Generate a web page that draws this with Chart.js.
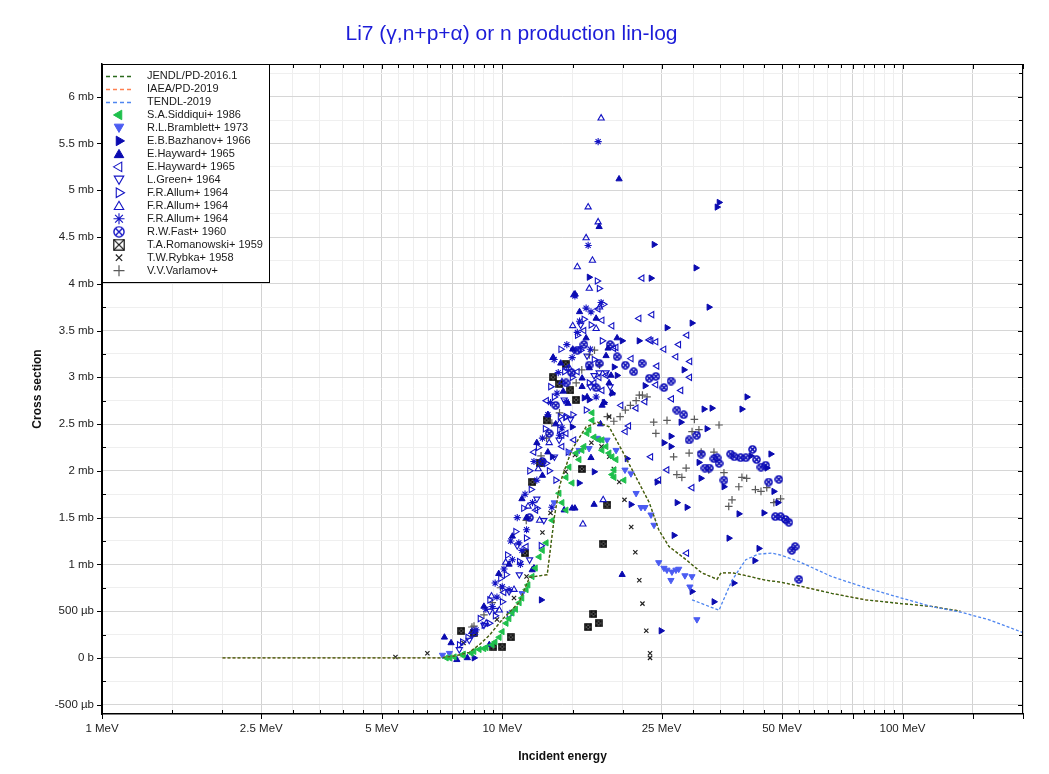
<!DOCTYPE html>
<html>
<head>
<meta charset="utf-8">
<title>Li7 photonuclear</title>
<script src="https://cdn.jsdelivr.net/npm/chart.js@4.4.1/dist/chart.umd.min.js"></script>
<style>
  html, body { margin: 0; padding: 0; background: #fff; }
  #wrap { width: 1049px; height: 774px; }
</style>
</head>
<body>
<div id="wrap"><canvas id="chart" width="1049" height="774"></canvas></div>
<script>
// ---- axis tick values ----
const xLabelValues = [1, 2.5, 5, 10, 25, 50, 100];
const xStrongValues = [1, 2.5, 5, 7.5, 10, 25, 50, 75, 100, 150, 200];
const yLabelValues = [-0.5, 0, 0.5, 1, 1.5, 2, 2.5, 3, 3.5, 4, 4.5, 5, 5.5, 6];

// ---- evaluations (MeV, mb) ----
const jendlE = [2.0, 7.0, 7.59, 8.27, 8.76, 9.28, 10.0, 11.0, 11.7, 12.95, 13.5, 13.9, 14.1, 14.9, 16.2, 17.3, 18.5, 19.9, 21.6, 23.3, 24.6, 26.1, 28.8, 31.5, 34.4, 35.2, 37.5, 40.6, 45.5, 49.6, 55.1, 66.5, 80.9, 99.4, 118, 139.5];
const jendlXs = [0, 0, 0.02, 0.06, 0.14, 0.24, 0.41, 0.59, 0.86, 0.89, 1.51, 1.83, 1.93, 2.22, 2.47, 2.52, 2.47, 2.22, 1.93, 1.66, 1.37, 1.19, 1.05, 0.91, 0.84, 0.91, 0.91, 0.88, 0.83, 0.81, 0.77, 0.69, 0.62, 0.58, 0.55, 0.50];
// IAEA/PD-2019 sits under the JENDL curve
const iaeaE = jendlE;
const iaeaXs = jendlXs;
const tendlE = [29.8, 34.8, 37.5, 40.6, 43.7, 47.1, 49.6, 55.1, 66.5, 80.9, 99.4, 118, 139.5, 163.9, 200];
const tendlXs = [0.62, 0.51, 0.83, 1.05, 1.11, 1.12, 1.10, 1.03, 0.87, 0.75, 0.64, 0.55, 0.49, 0.41, 0.27];

// ---- experiments (MeV, mb) ----
const siddiquiE = [7.25, 7.4, 7.59, 7.95, 8.0, 8.37, 8.5, 8.76, 9.0, 9.12, 9.44, 9.6, 9.83, 10.0, 10.23, 10.4, 10.59, 10.8, 11.03, 11.2, 11.48, 11.6, 11.88, 12.1, 12.37, 12.6, 12.88, 13.33, 13.87, 14.11, 14.44, 14.44, 14.69, 14.95, 15.3, 15.56, 15.83, 16.01, 16.29, 16.48, 16.77, 16.77, 16.96, 17.46, 17.76, 18.17, 18.49, 18.81, 19.03, 19.25, 19.03, 20.15, 18.81, 17.76];
const siddiquiXs = [0.0, 0.0, 0.01, 0.03, 0.04, 0.05, 0.07, 0.09, 0.10, 0.11, 0.14, 0.17, 0.22, 0.28, 0.37, 0.42, 0.48, 0.52, 0.59, 0.64, 0.73, 0.78, 0.87, 0.96, 1.08, 1.15, 1.23, 1.47, 1.76, 1.66, 1.58, 1.93, 2.04, 1.87, 2.19, 2.12, 2.22, 2.26, 2.40, 2.44, 2.62, 2.54, 2.36, 2.33, 2.22, 2.26, 2.19, 2.15, 2.01, 2.12, 1.93, 1.90, 1.96, 2.33];

const bramblettE = [7.09, 7.38, 10.59, 11.21, 13.48, 14.69, 15.56, 16.48, 17.26, 18.27, 19.25, 20.26, 20.97, 21.6, 22.22, 22.73, 23.53, 23.94, 24.6, 25.35, 25.79, 26.54, 27.16, 27.6, 28.6, 29.78, 26.39, 29.43, 30.64];
const bramblettXs = [0.03, 0.05, 0.49, 0.69, 1.66, 2.20, 2.22, 2.24, 2.35, 2.33, 2.22, 2.01, 1.97, 1.76, 1.61, 1.61, 1.53, 1.42, 1.02, 0.96, 0.94, 0.92, 0.94, 0.95, 0.88, 0.87, 0.83, 0.76, 0.41];

const bazhanovE = [34.8, 34.4, 23.94, 30.46, 23.53, 16.48, 32.83, 29.78, 19.93, 21.96, 25.79, 19.03, 40.83, 31.9, 33.4, 39.67, 32.45, 41.79, 46.86, 31.35, 35.78, 45.8, 47.68, 48.79, 39.0, 45.02, 36.82, 43.75, 42.73, 28.44, 22.73, 27.95, 26.39, 25.35, 26.39, 18.81, 17.96, 14.95, 20.5, 16.96, 15.56, 24.35, 30.99, 27.32, 28.93, 20.97, 26.85, 37.9, 33.79, 29.78, 24.92, 13.33, 12.51, 16.01, 19.36, 16.48, 8.5];
const bazhanovXs = [4.87, 4.82, 4.42, 4.17, 4.06, 4.07, 3.75, 3.58, 3.39, 3.39, 3.53, 3.11, 2.79, 2.66, 2.67, 2.66, 2.45, 2.16, 2.18, 1.92, 1.83, 2.03, 1.78, 1.66, 1.54, 1.55, 1.28, 1.17, 1.04, 3.08, 2.91, 2.52, 2.37, 2.30, 2.26, 2.83, 2.73, 2.47, 2.13, 1.99, 1.87, 1.88, 2.09, 1.66, 1.61, 1.64, 1.31, 0.80, 0.60, 0.71, 0.29, 2.15, 0.62, 2.78, 3.02, 2.76, 0.0];

const haywardAE = [19.58, 17.46, 17.16, 19.36, 16.2, 18.38, 18.17, 18.49, 18.81, 17.96, 17.76, 15.83, 16.29, 15.83, 16.66, 15.19, 16.96, 14.28, 19.93, 7.17, 7.7, 8.18, 7.45, 9.28, 11.88, 14.95, 12.0, 18.7, 15.2, 13.4, 14.2, 14.6, 13.6, 13.0, 12.6, 11.5, 10.4, 9.0, 9.8, 10.6, 11.2, 12.2, 13.0, 14.0, 15.0, 15.6, 16.5, 17.6];
const haywardAXs = [5.12, 4.61, 3.63, 3.42, 3.42, 3.31, 3.23, 2.94, 2.83, 2.73, 2.70, 2.99, 2.79, 2.90, 2.14, 1.60, 1.64, 1.58, 0.89, 0.22, -0.02, 0.0, 0.16, 0.14, 0.94, 1.60, 0.96, 3.02, 3.89, 3.21, 2.85, 2.72, 2.50, 2.20, 1.95, 1.50, 1.00, 0.55, 0.90, 1.30, 1.70, 2.30, 2.60, 3.15, 3.30, 3.70, 3.10, 2.50];

const haywardBE = [22.35, 23.66, 21.97, 17.76, 17.36, 28.93, 23.53, 24.21, 27.6, 25.35, 27.16, 29.43, 19.25, 24.35, 29.4, 24.2, 27.95, 26.5, 22.73, 21.6, 20.7, 20.3, 23.5, 25.8, 24.6, 29.8, 28.9, 15.1, 14.1, 19.0, 23.3, 18.17, 17.46, 16.96, 15.4, 15.56, 14.1, 17.76, 12.13, 11.48, 14.44, 10.1, 12.0, 12.9, 14.5, 16.0, 19.8, 21.0, 18.8];
const haywardBXs = [4.06, 3.67, 3.63, 3.61, 3.73, 3.45, 3.39, 3.38, 3.35, 3.30, 3.22, 3.17, 3.32, 3.12, 3.00, 2.92, 2.86, 2.77, 2.74, 2.67, 2.48, 2.42, 2.15, 2.01, 1.90, 1.82, 1.12, 2.33, 2.26, 3.31, 3.40, 3.02, 3.00, 2.94, 3.06, 3.30, 2.38, 2.86, 1.58, 1.19, 2.40, 0.70, 2.20, 2.75, 3.10, 3.50, 2.70, 3.20, 3.55];

const greenE = [16.96, 17.46, 18.17, 16.29, 11.7, 12.7, 11.03, 10.4, 9.6, 9.0, 8.27, 7.81, 13.87, 14.28, 15.1, 15.7, 9.3, 10.9, 12.2, 13.5, 14.8, 16.6, 18.6];
const greenXs = [3.02, 3.05, 3.05, 3.23, 1.05, 1.47, 0.89, 0.71, 0.51, 0.35, 0.19, 0.09, 2.33, 2.76, 3.29, 3.56, 0.50, 1.20, 1.70, 2.15, 2.55, 2.90, 2.90];

const allumRE = [10.23, 12.88, 11.8, 7.81, 7.95, 9.0, 9.28, 10.4, 11.03, 11.48, 13.95, 14.4, 13.48, 14.3, 17.26, 17.46, 16.66, 17.76, 15.7, 16.96, 14.95, 16.48, 14.44, 13.9, 17.9, 8.5, 9.6, 10.0, 12.2, 13.1, 8.2, 8.8, 9.3, 9.9, 10.3, 10.8, 11.3, 11.7, 12.3, 12.8, 13.2, 14.0, 15.4, 16.0, 14.6, 13.6, 12.5, 16.2, 15.0];
const allumRXs = [0.89, 2.08, 1.80, 0.14, 0.17, 0.35, 0.37, 0.46, 1.03, 1.28, 2.58, 2.57, 2.79, 3.06, 4.03, 3.95, 3.56, 3.39, 3.29, 3.19, 3.00, 2.94, 2.58, 2.44, 3.78, 0.25, 0.45, 0.60, 1.60, 2.00, 0.22, 0.42, 0.62, 0.85, 1.10, 1.35, 1.60, 2.00, 2.25, 2.45, 2.90, 3.30, 3.45, 3.62, 2.20, 1.90, 1.20, 2.65, 2.60];

const allumUE = [17.66, 16.39, 17.36, 16.2, 15.4, 17.16, 15.1, 13.9, 15.9, 17.87, 9.12, 14.7, 9.83, 10.7, 12.4, 13.4, 8.4, 9.4, 10.2, 11.6, 12.3, 13.1, 14.1, 15.0, 16.5, 16.8, 17.5];
const allumUXs = [5.77, 4.82, 4.66, 4.49, 4.18, 3.52, 3.88, 2.51, 1.43, 1.69, 0.37, 3.10, 0.51, 0.73, 1.47, 3.21, 0.28, 0.66, 1.02, 1.62, 2.02, 2.30, 2.95, 3.55, 3.95, 4.25, 3.75];

const allumSE = [17.36, 16.39, 15.19, 17.66, 16.2, 16.66, 15.4, 13.48, 14.95, 13.7, 13.2, 14.44, 17.16, 13.9, 14.1, 13.3, 11.9, 11.5, 11.0, 11.2, 10.4, 9.7, 10.0, 9.44, 10.6, 8.6, 9.1, 9.6, 10.1, 10.5, 10.9, 11.4, 12.0, 12.6, 13.0, 13.8, 14.5, 15.6, 16.6, 12.2, 11.1];
const allumSXs = [5.52, 4.41, 3.87, 3.80, 3.74, 3.70, 3.48, 3.19, 3.21, 2.83, 2.73, 2.74, 2.79, 2.38, 2.46, 1.61, 1.66, 1.37, 1.23, 1.15, 0.73, 0.65, 0.76, 0.55, 1.05, 0.30, 0.52, 0.80, 0.95, 1.25, 1.50, 1.75, 2.10, 2.35, 2.60, 3.05, 3.35, 3.60, 3.30, 1.90, 1.00];

const fastE = [19.36, 16.48, 20.3, 22.35, 15.4, 17.46, 21.3, 23.3, 24.2, 14.44, 17.16, 25.35, 26.4, 27.3, 28.4, 29.3, 30.6, 31.4, 32.1, 32.9, 33.8, 34.8, 35.8, 37.2, 38.0, 39.4, 40.6, 42.2, 43.2, 44.3, 45.5, 46.3, 49.1, 48.1, 49.6, 51.0, 52.0, 52.9, 53.9, 55.1, 34.4, 13.6, 14.9, 16.0, 18.6, 13.1, 12.6, 11.7];
const fastXs = [3.22, 3.13, 3.13, 3.15, 3.29, 3.15, 3.06, 2.99, 3.01, 2.94, 2.89, 2.89, 2.96, 2.65, 2.60, 2.33, 2.38, 2.18, 2.03, 2.03, 2.13, 2.08, 1.90, 2.18, 2.15, 2.14, 2.14, 2.23, 2.12, 2.04, 2.06, 1.88, 1.91, 1.51, 1.51, 1.48, 1.45, 1.15, 1.19, 0.84, 2.14, 2.70, 3.05, 3.35, 3.35, 2.40, 2.10, 1.50];

const romanowskiE = [14.4, 13.4, 13.9, 14.8, 15.3, 12.9, 12.4, 11.9, 11.4, 10.5, 10.0, 9.5, 8.48, 7.9, 15.8, 18.3, 17.9, 16.9, 16.4, 17.4];
const romanowskiXs = [3.14, 3.00, 2.93, 2.86, 2.76, 2.54, 2.08, 1.88, 1.12, 0.22, 0.12, 0.12, 0.27, 0.29, 2.02, 1.64, 1.22, 0.47, 0.33, 0.37];

const rybkaE = [5.41, 6.5, 8.0, 9.7, 10.7, 11.5, 12.6, 13.2, 14.4, 15.2, 16.7, 18.5, 17.7, 18.5, 19.0, 19.6, 20.2, 21.0, 21.5, 22.0, 22.4, 22.9, 23.4, 23.4];
const rybkaXs = [0.01, 0.05, 0.16, 0.41, 0.64, 0.87, 1.34, 1.55, 1.99, 2.17, 2.30, 2.58, 2.26, 2.15, 2.02, 1.88, 1.69, 1.40, 1.13, 0.83, 0.58, 0.29, 0.05, 0.0];

const varlamovE = [9.0, 8.5, 9.44, 9.9, 11.48, 12.5, 12.9, 13.3, 13.9, 15.3, 17.0, 16.5, 17.5, 15.8, 18.3, 19.0, 19.7, 20.3, 20.9, 21.6, 22.4, 23.0, 23.9, 24.2, 22.0, 25.8, 26.8, 27.3, 28.1, 28.8, 29.3, 30.2, 29.8, 31.0, 34.8, 31.4, 33.8, 32.8, 35.8, 39.7, 39.0, 40.8, 42.9, 44.3, 45.8, 47.7, 48.5, 49.6, 37.5, 36.8, 8.4];
const varlamovXs = [0.46, 0.34, 0.59, 0.75, 1.47, 2.16, 2.35, 2.51, 2.62, 2.94, 3.29, 3.24, 3.13, 3.08, 2.58, 2.53, 2.58, 2.65, 2.70, 2.75, 2.81, 2.79, 2.52, 2.40, 2.81, 2.54, 2.15, 1.96, 1.93, 2.03, 2.19, 2.55, 2.42, 2.44, 2.49, 2.20, 2.20, 2.01, 1.98, 1.93, 1.83, 1.92, 1.80, 1.78, 1.82, 1.66, 1.67, 1.70, 1.69, 1.62, 0.33];

// ---- helpers ----
const FONT = '"Liberation Sans", Arial, Helvetica, sans-serif';

function pts(xs, ys) {
    return xs.map((x, i) => ({ x: x, y: ys[i] }));
}

function isOn(list, v) {
    return list.some(t => Math.abs(t - v) < 1e-9);
}

// circle with a cross inside, as a point image
function makeCircleX(size, color, lw) {
    const c = document.createElement('canvas');
    c.width = size; c.height = size;
    const g = c.getContext('2d');
    const m = size / 2, r = size / 2 - lw / 2 - 0.2;
    g.strokeStyle = color; g.lineWidth = lw;
    g.beginPath(); g.arc(m, m, r, 0, Math.PI * 2); g.stroke();
    const d = r * 0.68;
    g.beginPath();
    g.moveTo(m - d, m - d); g.lineTo(m + d, m + d);
    g.moveTo(m + d, m - d); g.lineTo(m - d, m + d);
    g.stroke();
    return c;
}

// square with a cross inside
function makeBoxX(size, color, fill, lw) {
    const c = document.createElement('canvas');
    c.width = size; c.height = size;
    const g = c.getContext('2d');
    const o = lw / 2 + 0.2, s = size - 2 * o;
    if (fill) { g.fillStyle = fill; g.fillRect(o, o, s, s); }
    g.strokeStyle = color; g.lineWidth = lw;
    g.strokeRect(o, o, s, s);
    g.beginPath();
    g.moveTo(o, o); g.lineTo(o + s, o + s);
    g.moveTo(o + s, o); g.lineTo(o, o + s);
    g.stroke();
    return c;
}

const BLUE = '#1414c4';
const DARKBLUE = '#0a0ab0';

const circPlot = makeCircleX(9, '#1010b8', 1.6);
const circLegend = makeCircleX(12, BLUE, 1.4);
const boxPlot = makeBoxX(8, '#111', '#fff', 1.7);
const boxLegend = makeBoxX(12, '#111', null, 1.2);

function scatterSet(label, xs, ys, style, order) {
    return Object.assign({
        type: 'scatter',
        label: label,
        data: pts(xs, ys),
        showLine: false,
        order: order,
        pointHoverRadius: 0
    }, style);
}

function lineSet(label, xs, ys, color, order) {
    return {
        type: 'line',
        label: label,
        data: pts(xs, ys),
        borderColor: color,
        backgroundColor: color,
        borderWidth: 1.3,
        borderDash: [3, 2],
        pointRadius: 0,
        fill: false,
        tension: 0,
        order: order
    };
}

const datasets = [
    lineSet('JENDL/PD-2016.1', jendlE, jendlXs, '#2b6a1c', 1),
    lineSet('IAEA/PD-2019', iaeaE, iaeaXs, '#ff8050', 2),
    lineSet('TENDL-2019', tendlE, tendlXs, '#4f86f0', 0),
    scatterSet('S.A.Siddiqui+ 1986', siddiquiE, siddiquiXs,
        { pointStyle: 'triangle', rotation: 270, pointRadius: 3.6, backgroundColor: '#1fc04c', borderColor: '#1fc04c', borderWidth: 1 }, 3),
    scatterSet('R.L.Bramblett+ 1973', bramblettE, bramblettXs,
        { pointStyle: 'triangle', rotation: 180, pointRadius: 3.6, backgroundColor: '#4b5cf2', borderColor: '#4b5cf2', borderWidth: 1 }, 4),
    scatterSet('E.B.Bazhanov+ 1966', bazhanovE, bazhanovXs,
        { pointStyle: 'triangle', rotation: 90, pointRadius: 3.6, backgroundColor: DARKBLUE, borderColor: DARKBLUE, borderWidth: 1 }, 5),
    scatterSet('E.Hayward+ 1965', haywardAE, haywardAXs,
        { pointStyle: 'triangle', rotation: 0, pointRadius: 3.6, backgroundColor: DARKBLUE, borderColor: DARKBLUE, borderWidth: 1 }, 6),
    scatterSet('E.Hayward+ 1965', haywardBE, haywardBXs,
        { pointStyle: 'triangle', rotation: 270, pointRadius: 3.6, backgroundColor: 'rgba(0,0,0,0)', borderColor: BLUE, borderWidth: 1.1 }, 7),
    scatterSet('L.Green+ 1964', greenE, greenXs,
        { pointStyle: 'triangle', rotation: 180, pointRadius: 3.6, backgroundColor: 'rgba(0,0,0,0)', borderColor: BLUE, borderWidth: 1.1 }, 8),
    scatterSet('F.R.Allum+ 1964', allumRE, allumRXs,
        { pointStyle: 'triangle', rotation: 90, pointRadius: 3.6, backgroundColor: 'rgba(0,0,0,0)', borderColor: BLUE, borderWidth: 1.1 }, 9),
    scatterSet('F.R.Allum+ 1964', allumUE, allumUXs,
        { pointStyle: 'triangle', rotation: 0, pointRadius: 3.6, backgroundColor: 'rgba(0,0,0,0)', borderColor: BLUE, borderWidth: 1.1 }, 10),
    scatterSet('F.R.Allum+ 1964', allumSE, allumSXs,
        { pointStyle: 'star', rotation: 0, pointRadius: 3.6, backgroundColor: BLUE, borderColor: BLUE, borderWidth: 1.1 }, 11),
    scatterSet('R.W.Fast+ 1960', fastE, fastXs,
        { pointStyle: circPlot, pointRadius: 4, backgroundColor: BLUE, borderColor: BLUE, borderWidth: 1 }, 12),
    scatterSet('T.A.Romanowski+ 1959', romanowskiE, romanowskiXs,
        { pointStyle: boxPlot, pointRadius: 4, backgroundColor: '#111', borderColor: '#111', borderWidth: 1 }, 13),
    scatterSet('T.W.Rybka+ 1958', rybkaE, rybkaXs,
        { pointStyle: 'crossRot', pointRadius: 3, backgroundColor: '#222', borderColor: '#222', borderWidth: 1.2 }, 14),
    scatterSet('V.V.Varlamov+', varlamovE, varlamovXs,
        { pointStyle: 'cross', pointRadius: 3.8, backgroundColor: '#5a5a5a', borderColor: '#5a5a5a', borderWidth: 1.2 }, 15)
];

// legend images that differ from the plot markers
const legendImages = { 'R.W.Fast+ 1960': circLegend, 'T.A.Romanowski+ 1959': boxLegend };

// frame: border, inside/outside tick marks
const frameTicks = {
    id: 'frameTicks',
    afterDatasetsDraw(chart) {
        const { ctx, chartArea: a, scales } = chart;
        const x = scales.x, y = scales.y;
        ctx.save();
        ctx.strokeStyle = '#000';
        ctx.lineWidth = 1;
        ctx.beginPath();
        x.ticks.forEach(t => {
            const px = Math.round(x.getPixelForValue(t.value)) + 0.5;
            if (isOn(xStrongValues, t.value)) {
                ctx.moveTo(px, a.bottom); ctx.lineTo(px, a.bottom + 5);
                ctx.moveTo(px, a.top); ctx.lineTo(px, a.top + 5);
            } else {
                ctx.moveTo(px, a.bottom); ctx.lineTo(px, a.bottom - 4);
                ctx.moveTo(px, a.top); ctx.lineTo(px, a.top + 4);
            }
        });
        y.ticks.forEach(t => {
            const py = Math.round(y.getPixelForValue(t.value)) + 0.5;
            if (isOn(yLabelValues, t.value)) {
                ctx.moveTo(a.left - 5, py); ctx.lineTo(a.left, py);
                ctx.moveTo(a.right, py); ctx.lineTo(a.right - 5, py);
            } else {
                ctx.moveTo(a.left, py); ctx.lineTo(a.left + 4, py);
                ctx.moveTo(a.right, py); ctx.lineTo(a.right - 4, py);
            }
        });
        ctx.stroke();
        ctx.strokeRect(Math.round(a.left) + 0.5, Math.round(a.top) + 0.5,
            Math.round(a.width) - 1, Math.round(a.height) - 1);
        ctx.restore();
    }
};

// boxed legend in the upper left corner of the plot
const boxLegendPlugin = {
    id: 'boxLegend',
    afterDraw(chart) {
        const { ctx, chartArea: a } = chart;
        const left = a.left, top = a.top;
        const w = 167, h = 218, rowH = 12.98;
        ctx.save();
        ctx.fillStyle = '#fff';
        ctx.fillRect(left, top, w, h);
        ctx.strokeStyle = '#000';
        ctx.lineWidth = 1;
        ctx.strokeRect(Math.round(left) + 0.5, Math.round(top) + 0.5, w, h);
        ctx.font = '11px ' + FONT;
        ctx.textBaseline = 'middle';
        ctx.textAlign = 'left';
        chart.data.datasets.forEach((ds, i) => {
            const cy = top + 12 + i * rowH;
            const cx = left + 17;
            if (ds.type === 'line') {
                ctx.save();
                ctx.strokeStyle = ds.borderColor;
                ctx.lineWidth = 1.6;
                ctx.setLineDash([4, 3]);
                ctx.beginPath();
                ctx.moveTo(left + 4, Math.round(cy) + 0.5);
                ctx.lineTo(left + 30, Math.round(cy) + 0.5);
                ctx.stroke();
                ctx.restore();
            } else {
                ctx.save();
                ctx.fillStyle = ds.backgroundColor;
                ctx.strokeStyle = ds.borderColor;
                ctx.lineWidth = ds.borderWidth;
                const img = legendImages[ds.label];
                const opts = {
                    pointStyle: img || ds.pointStyle,
                    rotation: ds.rotation || 0,
                    radius: ds.pointStyle === 'crossRot' ? 4.5 : 5.5,
                    borderWidth: ds.borderWidth
                };
                const yOff = (ds.pointStyle === 'triangle' && (ds.rotation === 0)) ? 1 : (ds.pointStyle === 'triangle' && ds.rotation === 180 ? -1 : 0);
                Chart.helpers.drawPoint(ctx, opts, cx, cy + yOff);
                ctx.restore();
            }
            ctx.fillStyle = '#1a1a1a';
            ctx.fillText(ds.label, left + 45, cy);
        });
        ctx.restore();
    }
};

function yLabel(v) {
    if (!isOn(yLabelValues, v)) return '';
    if (Math.abs(v) < 1e-9) return '0 b';
    if (Math.abs(v) >= 1) return v + ' mb';
    return Math.round(v * 1000) + ' µb';
}

function xLabel(v) {
    return isOn(xLabelValues, v) ? v + ' MeV' : '';
}

// minor grid positions: 0.5 steps below 10 MeV, 5 up to 100, 50 above
function buildXGrid() {
    const out = [];
    for (let k = 2; k <= 20; k++) out.push(k * 0.5);
    for (let k = 3; k <= 20; k++) out.push(k * 5);
    out.push(150, 200);
    return out;
}

function buildYGrid() {
    const out = [];
    for (let k = -2; k <= 25; k++) out.push(k * 0.25);
    return out;
}

const ctx = document.getElementById('chart').getContext('2d');
new Chart(ctx, {
    type: 'scatter',
    data: { datasets: datasets },
    options: {
        responsive: false,
        animation: false,
        events: [],
        layout: { padding: { left: 0, right: 26, top: 0, bottom: 0 } },
        plugins: {
            legend: { display: false },
            tooltip: { enabled: false },
            title: {
                display: true,
                text: 'Li7 (γ,n+p+α) or n production lin-log',
                color: '#1c1cd8',
                font: { family: FONT, size: 21, weight: 'normal' },
                padding: { top: 22, bottom: 16.8 }
            }
        },
        scales: {
            x: {
                type: 'logarithmic',
                min: 1,
                max: 200,
                afterBuildTicks: s => { s.ticks = buildXGrid().map(v => ({ value: v })); },
                afterFit: s => { s.height = 60; },
                ticks: {
                    autoSkip: false,
                    maxRotation: 0,
                    padding: 8,
                    color: '#222',
                    font: { family: FONT, size: 11.5 },
                    callback: v => xLabel(v)
                },
                grid: {
                    drawTicks: false,
                    lineWidth: 1,
                    color: c => (c.tick && isOn(xStrongValues, c.tick.value)) ? '#d2d2d2' : '#eeeeee'
                },
                border: { display: true, color: '#000', width: 1.5 },
                title: {
                    display: true,
                    text: 'Incident energy',
                    color: '#111',
                    font: { family: FONT, size: 12, weight: 'bold' },
                    padding: { top: 0, bottom: 10 }
                }
            },
            y: {
                type: 'linear',
                min: -0.6,
                max: 6.35,
                afterBuildTicks: s => { s.ticks = buildYGrid().map(v => ({ value: v })); },
                afterFit: s => { s.width = 102; },
                ticks: {
                    autoSkip: false,
                    padding: 8,
                    color: '#222',
                    font: { family: FONT, size: 11.5 },
                    callback: v => yLabel(v)
                },
                grid: {
                    drawTicks: false,
                    lineWidth: 1,
                    color: c => (c.tick && isOn(yLabelValues, c.tick.value)) ? '#d6d6d6' : '#efefef'
                },
                border: { display: true, color: '#000', width: 1.5 },
                title: {
                    display: true,
                    text: 'Cross section',
                    color: '#111',
                    font: { family: FONT, size: 12, weight: 'bold' },
                    padding: { top: 30, bottom: 0 }
                }
            }
        }
    },
    plugins: [frameTicks, boxLegendPlugin]
});
</script>
</body>
</html>
